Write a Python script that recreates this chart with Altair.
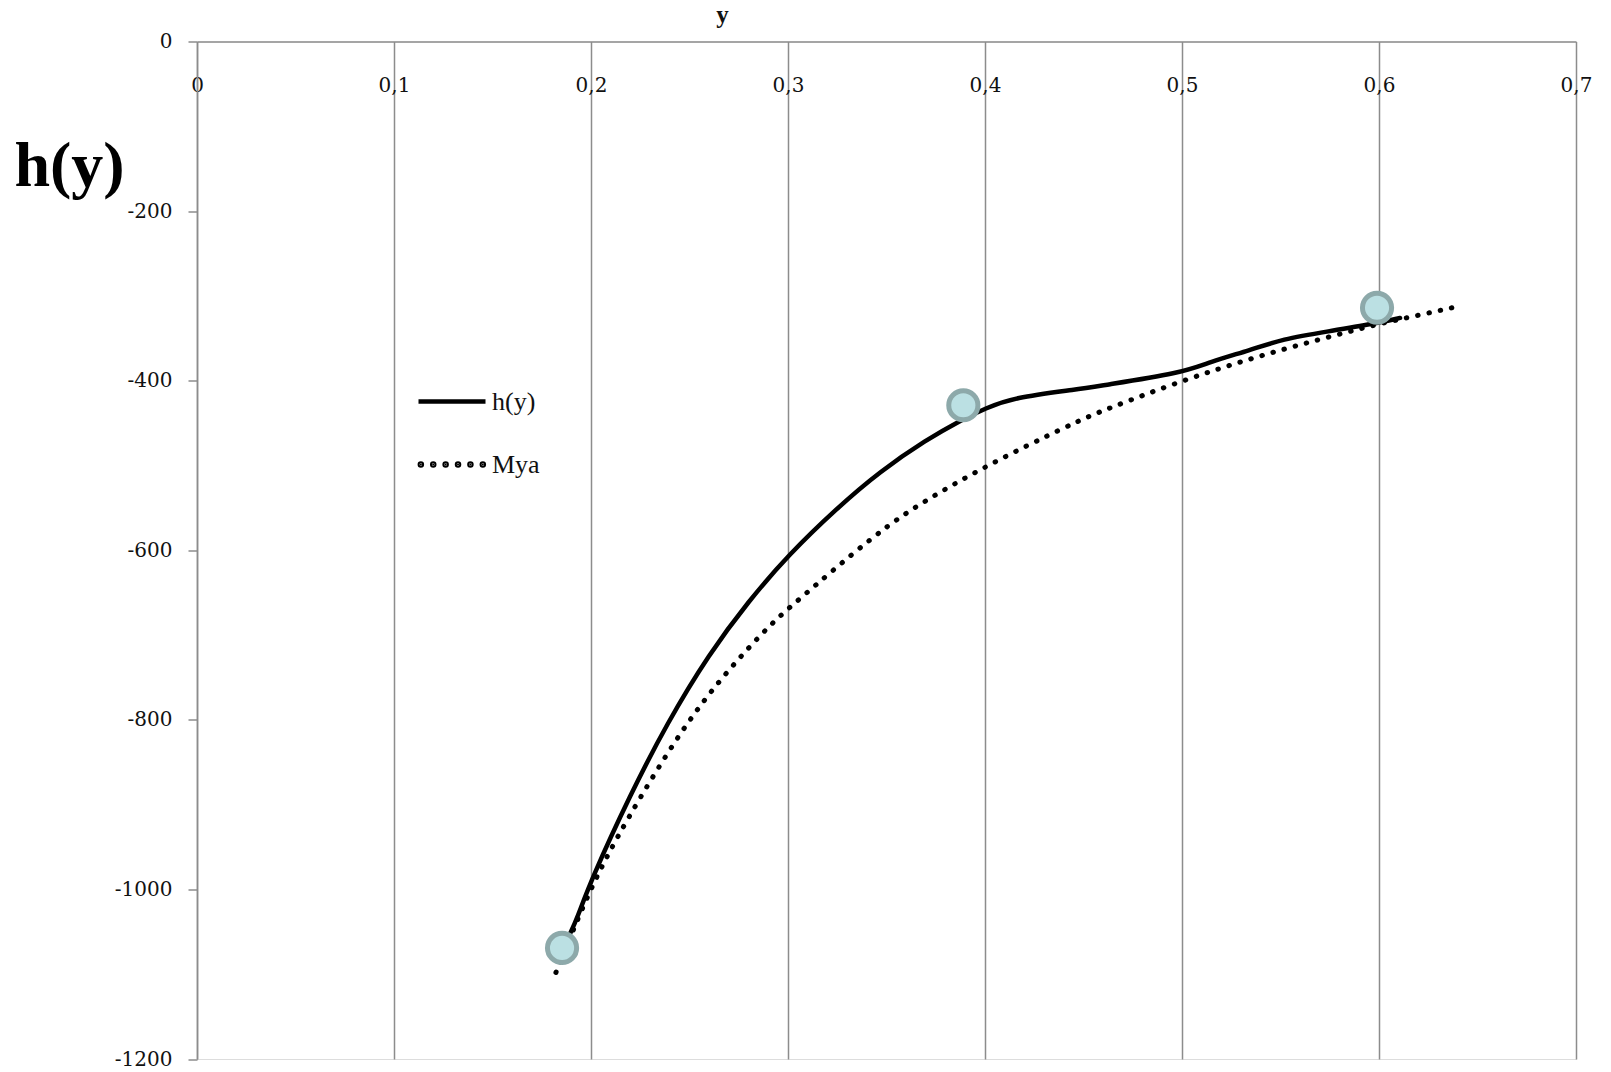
import altair as alt
import pandas as pd

# h(y) series (solid)
h_x = [0.189, 0.193, 0.200, 0.220, 0.2386, 0.260, 0.280, 0.300, 0.325, 0.3467,
       0.370, 0.389, 0.400, 0.414, 0.448, 0.4584, 0.500, 0.514, 0.5345, 0.551,
       0.5736, 0.600, 0.6107]
h_y = [-1054, -1034, -989, -888, -804, -722, -660, -606, -550, -507,
       -470, -445, -433, -420, -410, -406, -391, -378, -364, -351,
       -342, -332, -326]

# Mya series (dotted)
m_x = [0.1822, 0.200, 0.217, 0.2467, 0.270, 0.2909, 0.300, 0.3467, 0.370, 0.400,
       0.4447, 0.461, 0.500, 0.5345, 0.5685, 0.600, 0.6157, 0.639]
m_y = [-1098, -996, -922, -808, -740, -688, -669, -576, -541, -501,
       -450, -434, -400, -374, -352, -333, -325, -313]

# highlighted points
p_x = [0.1853, 0.389, 0.599]
p_y = [-1069, -429, -314]

series_names = ["h(y)", "Mya"]
x_ticks = [0, 0.1, 0.2, 0.3, 0.4, 0.5, 0.6, 0.7]
y_ticks = [0, -200, -400, -600, -800, -1000, -1200]

h_df = pd.DataFrame({"x": h_x, "y": h_y, "series": series_names[0],
                     "order": list(range(len(h_x)))})
m_df = pd.DataFrame({"x": m_x, "y": m_y, "series": series_names[1],
                     "order": list(range(len(m_x)))})
pts = pd.DataFrame({"x": p_x, "y": p_y})

tick_font = "DejaVu Serif"
x_scale = alt.Scale(domain=[0, 0.7], nice=False, zero=False)
y_scale = alt.Scale(domain=[-1200, 0], nice=False, zero=False)

x_enc = alt.X(
    "x:Q", scale=x_scale,
    axis=alt.Axis(
        orient="top", values=x_ticks, title="y", grid=True, ticks=False,
        gridColor="#8c8c8c", gridWidth=1.5, domainColor="#8c8c8c", domainWidth=1.5,
        labelExpr="replace(format(datum.value, '.1~f'), '.', ',')",
        labelFont=tick_font, labelFontSize=20, labelColor="#111111",
        labelPadding=-50, labelBaseline="alphabetic", labelAlign="center",
        titleFont="Liberation Serif", titleFontSize=25, titleFontWeight="bold",
        titleColor="#111111", titleX=525, titleY=-19, titleBaseline="alphabetic",
        titleAnchor="start", titleAlign="center",
    ),
)
y_enc = alt.Y(
    "y:Q", scale=y_scale,
    axis=alt.Axis(
        values=y_ticks, title="h(y)", grid=False, ticks=True, tickSize=9,
        tickColor="#8c8c8c", tickWidth=1.5, domainColor="#8c8c8c", domainWidth=1.5,
        labelExpr="'' + datum.value", labelFont=tick_font, labelFontSize=20,
        labelColor="#111111", labelPadding=16,
        titleFont="Liberation Serif", titleFontSize=64, titleFontWeight="bold",
        titleColor="#000000", titleAngle=0, titleX=-128, titleY=144,
        titleBaseline="alphabetic", titleAlign="center", titleAnchor="start",
    ),
)

legend_common = dict(
    title=None, orient="none", legendX=219,
    symbolSize=4489, symbolStrokeColor="black",
    labelFont="Liberation Serif", labelFontSize=26, labelColor="#111111",
    labelOffset=4, rowPadding=0, padding=0,
)

dot_centers = [-0.93, -0.56, -0.19, 0.18, 0.55, 0.92]
dots_path = " ".join(
    f"M{c - 0.03:.3f},0 a0.03,0.03 0 1,0 0.06,0 a0.03,0.03 0 1,0 -0.06,0 Z"
    for c in dot_centers
)

h_layer = alt.Chart(h_df).mark_line(
    strokeWidth=4.5, strokeCap="round", strokeJoin="round", interpolate="basis"
).encode(
    x=x_enc, y=y_enc, order="order:Q",
    color=alt.Color(
        "series:N",
        scale=alt.Scale(domain=[series_names[0]], range=["black"]),
        legend=alt.Legend(symbolType="stroke", symbolStrokeWidth=4.5,
                          legendY=324, **legend_common),
    ),
)

m_layer = alt.Chart(m_df).mark_line(
    strokeWidth=5, strokeCap="round", interpolate="basis"
).encode(
    x=alt.X("x:Q", scale=x_scale), y=alt.Y("y:Q", scale=y_scale),
    order="order:Q",
    strokeDash=alt.StrokeDash(
        "series:N",
        scale=alt.Scale(domain=[series_names[1]], range=[[0.5, 11]]),
        legend=None,
    ),
    color=alt.Color(
        "series:N",
        scale=alt.Scale(domain=[series_names[1]], range=["black"]),
        legend=alt.Legend(symbolType=dots_path, symbolStrokeWidth=4.5,
                          symbolFillColor="black",
                          legendY=387, **legend_common),
    ),
)

point_layer = alt.Chart(pts).mark_point(
    shape="circle", size=850, filled=True, fill="#bbe0e3", stroke="#8da9aa",
    strokeWidth=5, opacity=1,
).encode(x=alt.X("x:Q", scale=x_scale), y=alt.Y("y:Q", scale=y_scale))

chart = alt.layer(h_layer, m_layer, point_layer).resolve_scale(
    color="independent"
).resolve_legend(color="independent").properties(
    width=1379, height=1017.5,
    autosize=alt.AutoSizeParams(type="none"),
    padding={"left": 189, "top": 33.5, "right": 20, "bottom": 10},
).configure_view(stroke=None).configure(background="white")

chart.save("out.html", embed_options={"renderer": "svg", "actions": False})
